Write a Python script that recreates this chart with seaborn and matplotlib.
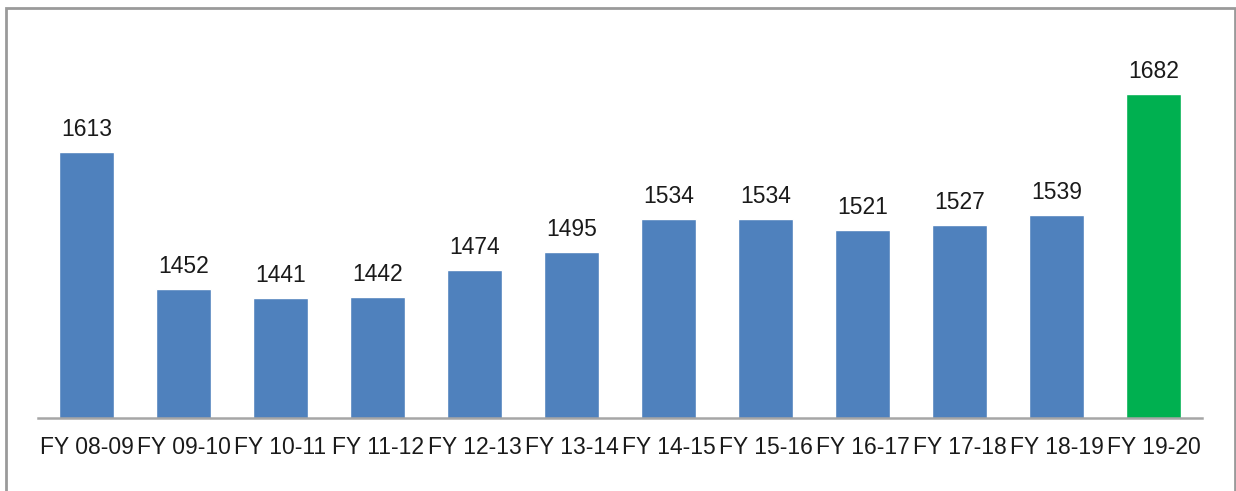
import matplotlib
matplotlib.use("Agg")
import matplotlib.pyplot as plt
import seaborn as sns
import pandas as pd
from matplotlib.patches import Rectangle

# Data
years = ["FY 08-09", "FY 09-10", "FY 10-11", "FY 11-12", "FY 12-13", "FY 13-14",
         "FY 14-15", "FY 15-16", "FY 16-17", "FY 17-18", "FY 18-19", "FY 19-20"]
values = [1613, 1452, 1441, 1442, 1474, 1495, 1534, 1534, 1521, 1527, 1539, 1682]
colors = ["#4F81BD"] * 11 + ["#00B050"]

df = pd.DataFrame({"year": years, "value": values})

sns.set_theme(style="white")
plt.rcParams["font.family"] = ["Liberation Sans", "DejaVu Sans"]

fig = plt.figure(figsize=(12.36, 4.91), dpi=100)
ax = fig.add_axes([38 / 1236, 1 - 418 / 491, (1202 - 38) / 1236, (418 - 7) / 491])

sns.barplot(data=df, x="year", y="value", hue="year", palette=colors,
            legend=False, width=0.57, saturation=1, ax=ax)

for c in ax.containers:
    ax.bar_label(c, fmt="%d", padding=8, fontsize=16.5, color="#1a1a1a")

ax.set_ylim(1300, 1784)
ax.set_xlim(-0.5, len(years) - 0.5)
ax.set_yticks([])
ax.set_xlabel("")
ax.set_ylabel("")
ax.tick_params(axis="x", length=0, pad=13, labelsize=16.5, labelcolor="#1a1a1a")
for s in ["top", "right", "left"]:
    ax.spines[s].set_visible(False)
ax.spines["bottom"].set_color("#A6A6A6")
ax.spines["bottom"].set_linewidth(1.8)

# outer chart border
fig.patches.append(Rectangle((6 / 1236, -0.05), (1235 - 6) / 1236, 1.05 - 8 / 491,
                             transform=fig.transFigure, fill=False,
                             edgecolor="#9A9A9A", linewidth=2))

fig.savefig("out.png", dpi=100)
